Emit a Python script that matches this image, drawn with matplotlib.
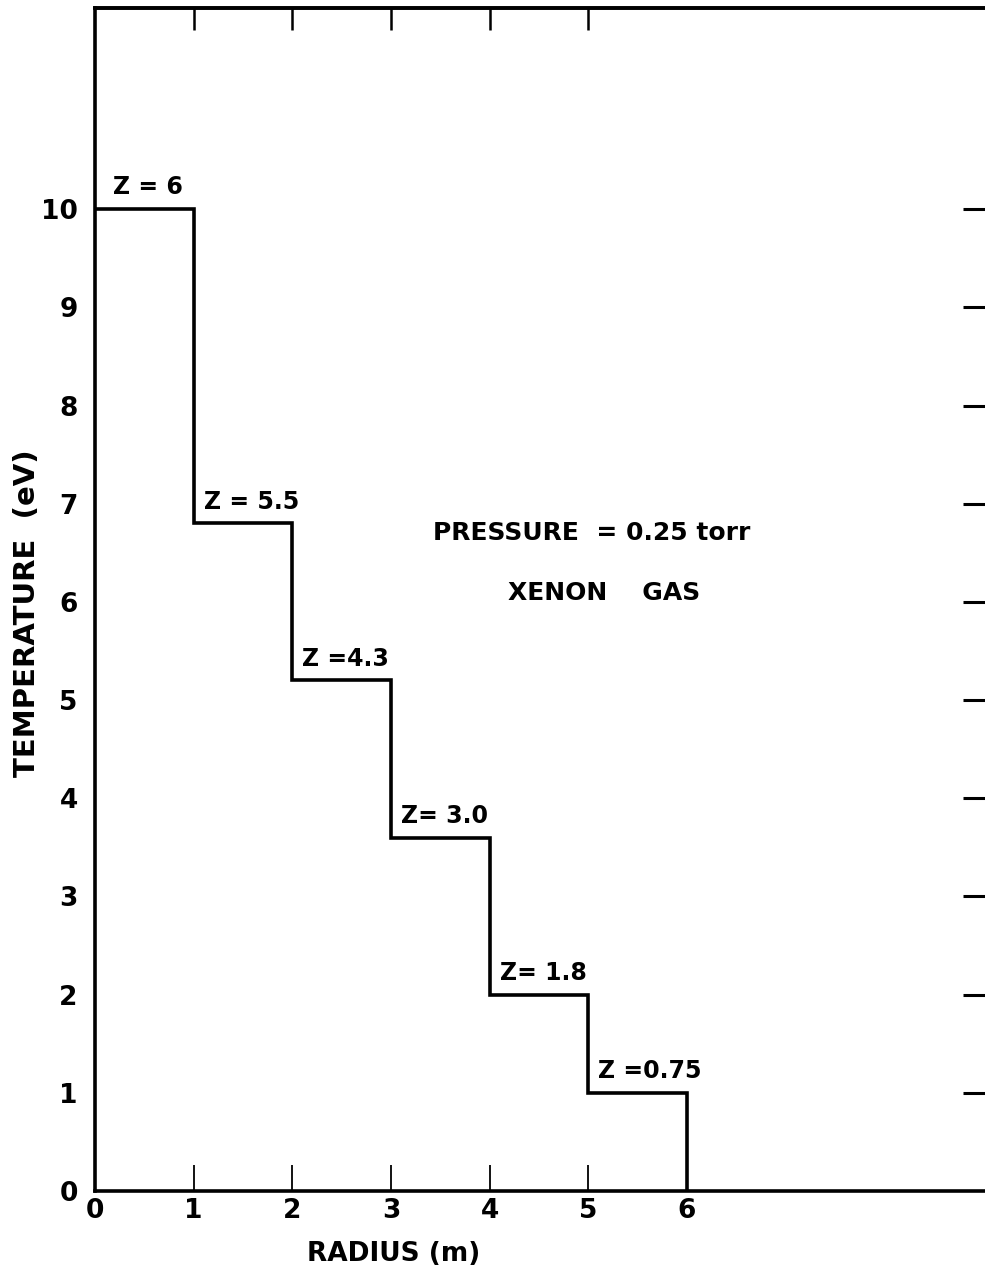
import numpy as np
import matplotlib
matplotlib.use('Agg')
from matplotlib import pyplot as plt

# radial shell edges (m) and the temperature held in each shell (eV)
radius_edges = [0, 1, 2, 3, 4, 5, 6]
temperature = [10, 6.8, 5.2, 3.6, 2.0, 1.0]
z_labels = ['Z = 6', 'Z = 5.5', 'Z =4.3', 'Z= 3.0', 'Z= 1.8', 'Z =0.75']
x_ticks = [0, 1, 2, 3, 4, 5, 6]
y_ticks = [0, 1, 2, 3, 4, 5, 6, 7, 8, 9, 10]
top_ticks = [1, 2, 3, 4, 5]
right_ticks = [1, 2, 3, 4, 5, 6, 7, 8, 9, 10]

plt.rcParams['font.family'] = 'DejaVu Sans'
plt.rcParams['font.weight'] = 'bold'

fig = plt.figure(figsize=(9.85, 12.71), dpi=100)
ax = fig.add_axes([95/985, 80/1271, 1 - 95/985, 1183/1271])

# stair profile: flat top over each shell, drop to zero at the outer wall
xs = np.repeat(radius_edges, 2)[1:-1]
ys = np.repeat(temperature, 2)
xs = np.append(xs, radius_edges[-1])
ys = np.append(ys, 0)
ax.plot(xs, ys, color='black', lw=2.6, solid_joinstyle='miter')

for i, (x0, t, lab) in enumerate(zip(radius_edges[:-1], temperature, z_labels)):
    dx = 0.18 if i == 0 else 0.1
    ax.text(x0 + dx, t + 0.1, lab, fontsize=17, ha='left', va='bottom')

ax.text(5.03, 6.70, 'PRESSURE  = 0.25 torr', fontsize=18, ha='center', va='center')
ax.text(5.16, 6.09, 'XENON    GAS', fontsize=18, ha='center', va='center')

ax.set_xlim(0, 9.02)
ax.set_ylim(0, 12.05)
ax.set_xticks(x_ticks)
ax.set_yticks(y_ticks)
ax.set_xticklabels([str(v) for v in x_ticks], fontsize=19)
ax.set_yticklabels([str(v) for v in y_ticks], fontsize=19)
ax.tick_params(axis='x', direction='in', length=19, width=1.3, pad=5)
ax.tick_params(axis='y', left=False, pad=9)
ax.spines['right'].set_visible(False)
for s in ['left', 'bottom', 'top']:
    ax.spines[s].set_linewidth(2.6)

# inward ticks along the top and right edges, no labels
top = ax.secondary_xaxis('top')
top.set_xticks(top_ticks)
top.tick_params(direction='in', length=16, width=1.8, labeltop=False)
top.spines['top'].set_linewidth(2.6)
right = ax.secondary_yaxis('right')
right.set_yticks(right_ticks)
right.tick_params(direction='in', length=16, width=2.2, labelright=False)
right.spines['right'].set_visible(False)

ax.set_xlabel('RADIUS (m)', fontsize=19, fontweight='bold', labelpad=12, x=0.335)
fig.text(27/985, 1 - 613/1271, 'TEMPERATURE  (eV)', fontsize=21, fontweight='bold',
         rotation=90, ha='center', va='center')

fig.savefig('out.png', dpi=100)
